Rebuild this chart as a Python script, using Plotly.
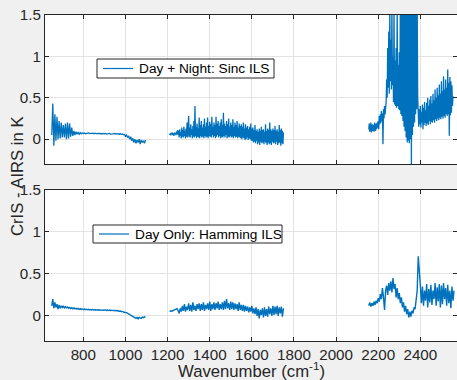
import plotly.graph_objects as go

# ---------------- data ----------------
# wavenumber sampling of each band: start and step (cm^-1)
lw_start, mw_start, sw_start = 650, 1210, 2155
coarse_step, fine_step = 5, 2.5

# Day + Night: Sinc ILS  (CrIS - AIRS, K)
top_lw = [0.05, 0.43, -0.08, 0.30, -0.02, 0.27, 0.00, 0.22, 0.01, 0.20,
          0.02, 0.17, 0.02, 0.19, 0.00, 0.20, 0.01, 0.19, 0.03, 0.14,
          0.04, 0.10, 0.05, 0.09, 0.06, 0.08, 0.06, 0.08, 0.065, 0.075,
          0.068, 0.074, 0.066, 0.072, 0.069, 0.075, 0.067, 0.071, 0.066, 0.073,
          0.065, 0.072, 0.067, 0.070, 0.064, 0.071, 0.066, 0.070, 0.063, 0.069,
          0.064, 0.070, 0.062, 0.068, 0.065, 0.070, 0.061, 0.067, 0.063, 0.069,
          0.062, 0.068, 0.061, 0.066, 0.060, 0.065, 0.058, 0.063, 0.055, 0.058,
          0.035, 0.050, 0.020, 0.040, 0.000, 0.030, -0.020, 0.010, -0.040, 0.000,
          -0.050, -0.010, -0.040, 0.000, -0.060, -0.010, -0.040, -0.020, -0.050, -0.010]
top_mw = [0.05, 0.07, 0.045, 0.075, 0.06, 0.08, 0.05, 0.07, 0.04, 0.08, 0.06, 0.075, 0.05, 0.09, 0.06, 0.11, 0.05,
          0.10, 0.02, 0.12, 0.04, 0.09, 0.01, 0.14, 0.03, 0.11, 0.02, 0.15, 0.04, 0.10, 0.01, 0.13, 0.03, 0.20, 0.02, 0.12, 0.28,
          0.03, 0.14, 0.02, 0.18, 0.05, 0.12, 0.01, 0.16, 0.03, 0.22, 0.02, 0.40, 0.04, 0.15, 0.01, 0.19, 0.03, 0.13, 0.02, 0.26,
          0.01, 0.17, 0.04, 0.22, 0.02, 0.14, 0.03, 0.18, 0.01, 0.25, 0.04, 0.15, 0.02, 0.20, 0.03, 0.26, 0.01, 0.16, 0.04, 0.21,
          0.03, 0.18, 0.02, 0.27, 0.05, 0.15, 0.02, 0.20, 0.04, 0.17, 0.01, 0.27, 0.03, 0.19, 0.05, 0.22, 0.02, 0.16, 0.04, 0.20,
          0.01, 0.24, 0.03, 0.17, 0.02, 0.32, 0.04, 0.19, 0.02, 0.16, 0.05, 0.22, 0.01, 0.18, 0.03, 0.25, 0.02, 0.15, 0.04, 0.20,
          0.02, 0.17, 0.03, 0.24, 0.01, 0.15, 0.04, 0.20, 0.02, 0.17, 0.03, 0.22, 0.01, 0.14, 0.03, 0.19, 0.02, 0.16, 0.01, 0.18,
          0.00, 0.15, 0.02, 0.20, 0.01, 0.13, -0.01, 0.18, 0.00, 0.14, 0.02, 0.16, -0.01, 0.12, 0.01, 0.15, 0.00, 0.19, -0.02, 0.13,
          -0.02, 0.14, -0.04, 0.11, -0.03, 0.17, -0.05, 0.10, -0.02, 0.12, -0.06, 0.09, -0.04, 0.13, -0.07, 0.10, -0.03, 0.15, -0.05, 0.11,
          -0.04, 0.12, -0.06, 0.09, -0.03, 0.18, -0.05, 0.10, -0.07, 0.13, -0.04, 0.11, -0.06, 0.20, -0.05, 0.12, -0.07, 0.10, -0.03, 0.13,
          -0.05, 0.11, -0.04, 0.16, -0.06, 0.10, -0.03, 0.12, -0.07, 0.09, -0.05, 0.17, -0.04, 0.11, -0.08, 0.13, -0.05, 0.10, -0.06, 0.08]
top_sw = [0.12, 0.19, 0.09, 0.16, 0.20, 0.08, 0.15, 0.18, 0.10, 0.17, 0.09, 0.20, 0.13, 0.10, 0.19, 0.12, 0.20, 0.14,
          0.22, 0.12, 0.28, 0.18, 0.30, 0.20, 0.34, 0.22, 0.31, -0.06, 0.36, 0.25, 0.40, 0.30, 0.38, 0.44,
          0.72, 0.50, 1.10, 0.62, 1.30, 0.55, 1.60, 0.70, 1.20, 0.60, 1.60, 0.65,
          1.00, 0.45, 1.60, 0.42, 0.95, 0.40, 1.10, 0.38, 1.60, 0.40, 0.90, 0.36, 1.05, 0.35, 1.60, 0.30,
          1.70, 0.28, 1.60, 0.22, 1.70, 0.15, 1.60, 0.10, 1.70, 0.02, 1.60, -0.04, 1.70, -0.02, 1.60, -0.05,
          1.70, 0.00, 1.60, -0.35, 1.70, 0.05, 1.60, 0.15, 1.70, 0.20, 1.60, 0.30, 1.70, 0.36, 1.60, 0.50,
          0.38, 0.15, 0.36, 0.18, 0.40, 0.14, 0.33, 0.20, 0.42, 0.12,
          0.38, 0.17, 0.45, 0.20, 0.35, 0.16, 0.44, 0.19, 0.50, 0.17,
          0.40, 0.22, 0.48, 0.18, 0.52, 0.21, 0.43, 0.20, 0.55, 0.23,
          0.47, 0.20, 0.60, 0.24, 0.50, 0.22, 0.62, 0.25, 0.53, 0.23,
          0.66, 0.26, 0.55, 0.24, 0.70, 0.27, 0.58, 0.25, 0.76, 0.28,
          0.60, 0.26, 0.72, 0.30, 0.62, 0.28, 0.84, 0.30, 0.68, 0.04,
          0.75, 0.29, 0.70, 0.32, 0.65, 0.40, 0.52]

# Day Only: Hamming ILS  (CrIS - AIRS, K)
bot_lw = [0.12, 0.20, 0.09, 0.16, 0.10, 0.14, 0.08, 0.13, 0.09, 0.12,
          0.10, 0.12, 0.09, 0.11, 0.095, 0.105, 0.09, 0.10, 0.088, 0.098,
          0.085, 0.095, 0.083, 0.090, 0.080, 0.088, 0.078, 0.086, 0.077, 0.082,
          0.075, 0.080, 0.073, 0.079, 0.072, 0.077, 0.071, 0.076, 0.070, 0.075,
          0.069, 0.074, 0.068, 0.073, 0.067, 0.072, 0.066, 0.071, 0.066, 0.070,
          0.065, 0.070, 0.064, 0.069, 0.063, 0.068, 0.062, 0.067, 0.062, 0.066,
          0.060, 0.065, 0.058, 0.063, 0.055, 0.058, 0.050, 0.052, 0.045, 0.046,
          0.040, 0.038, 0.030, 0.028, 0.020, 0.012, 0.005, 0.000, -0.010, -0.020,
          -0.030, -0.020, -0.035, -0.018, -0.025, -0.030, -0.015, -0.022, -0.012, -0.018]
bot_mw = [0.05, 0.06, 0.055, 0.065, 0.07, 0.075, 0.08, 0.085, 0.06, 0.03,
          0.09, 0.05, 0.12, 0.06, 0.14, 0.05, 0.11, 0.07, 0.15, 0.06,
          0.13, 0.05, 0.16, 0.07, 0.12, 0.06, 0.14, 0.08, 0.15, 0.06,
          0.14, 0.07, 0.16, 0.06, 0.13, 0.08, 0.15, 0.07, 0.17, 0.06,
          0.14, 0.08, 0.16, 0.07, 0.15, 0.09, 0.17, 0.07, 0.14, 0.08,
          0.16, 0.07, 0.18, 0.08, 0.20, 0.09, 0.15, 0.07, 0.17, 0.08,
          0.16, 0.07, 0.15, 0.08, 0.14, 0.06, 0.16, 0.07, 0.13, 0.06,
          0.13, 0.05, 0.12, 0.06, 0.11, 0.04, 0.10, 0.05, 0.12, 0.03,
          0.09, 0.02, 0.10, 0.00, 0.08, -0.03, 0.07, 0.01, 0.09, -0.02,
          0.10, 0.00, 0.08, -0.01, 0.11, 0.02, 0.09, 0.00, 0.12, 0.01,
          0.11, 0.02, 0.12, 0.00, 0.10, 0.03, 0.11, -0.01, 0.09]
bot_sw = [0.12, 0.16, 0.11, 0.15, 0.12, 0.17, 0.13, 0.18, 0.15, 0.21,
          0.17, 0.26, 0.20, 0.33, 0.22, 0.07, 0.30, 0.36, 0.25, 0.39,
          0.30, 0.41, 0.28, 0.45, 0.32, 0.38, 0.22, 0.33, 0.20, 0.27,
          0.15, 0.22, 0.10, 0.16, 0.05, 0.12, 0.02, 0.08, -0.02, 0.05,
          -0.01, 0.06, 0.03, 0.10, 0.08, 0.20, 0.30, 0.71, 0.45, 0.36,
          0.15, 0.35, 0.12, 0.30, 0.18, 0.38, 0.10, 0.32, 0.16, 0.37,
          0.13, 0.30, 0.20, 0.39, 0.12, 0.34, 0.17, 0.38, 0.10, 0.36,
          0.14, 0.39, 0.20, 0.33, 0.12, 0.37, 0.15, 0.30, 0.09, 0.35,
          0.18, 0.30]

series_names = ["Day + Night: Sinc ILS", "Day Only: Hamming ILS"]
x_ticks = [800, 1000, 1200, 1400, 1600, 1800, 2000, 2200, 2400]
y_ticks = [0, 0.5, 1, 1.5]


def join_bands(bands):
    xs, ys = [], []
    for start, stp, vals in bands:
        xs += [start + stp * i for i in range(len(vals))] + [None]
        ys += list(vals) + [None]
    return xs, ys


# ---------------- figure ----------------
FONT = "Liberation Sans, Arial, Helvetica, sans-serif"
AX = "#262626"
BLUE = "#0072BD"
W, H = 457, 380
ML, MR, MT, MB = 45, 0, 15, 39
PW, PH = W - ML - MR, H - MT - MB


def px(xp):   # paper x from pixel
    return (xp - ML) / PW


def py(yp):   # paper y from pixel
    return (H - MB - yp) / PH


fig = go.Figure()
x1, y1 = join_bands([(lw_start, coarse_step, top_lw), (mw_start, fine_step, top_mw),
                     (sw_start, fine_step, top_sw)])
x2, y2 = join_bands([(lw_start, coarse_step, bot_lw), (mw_start, coarse_step, bot_mw),
                     (sw_start, coarse_step, bot_sw)])
fig.add_trace(go.Scatter(x=x1, y=y1, mode="lines", name=series_names[0],
                         line=dict(color=BLUE, width=1.3), xaxis="x", yaxis="y",
                         connectgaps=False, showlegend=False))
fig.add_trace(go.Scatter(x=x2, y=y2, mode="lines", name=series_names[1],
                         line=dict(color=BLUE, width=1.4), xaxis="x2", yaxis="y2",
                         connectgaps=False, showlegend=False))

xcommon = dict(range=[618, 2574], tickvals=x_ticks, showgrid=True, gridcolor="#e3e3e3",
               gridwidth=1, zeroline=False, showline=True, linecolor=AX, linewidth=1,
               mirror="ticks", ticks="inside", ticklen=4, tickcolor=AX, automargin=False,
               tickfont=dict(family=FONT, size=15.2, color=AX))
ycommon = dict(range=[-0.3, 1.5], tickvals=y_ticks, ticktext=["0", "0.5", "1", "1.5"],
               showgrid=True, gridcolor="#e3e3e3", gridwidth=1, zeroline=False,
               showline=True, linecolor=AX, linewidth=1, mirror="ticks",
               ticks="inside", ticklen=4, tickcolor=AX, automargin=False,
               tickfont=dict(family=FONT, size=15.2, color=AX))

# legend boxes (MATLAB-style, one per axes): box, line sample, label
legend_boxes = [
    dict(box=(97, 59, 274, 78), sample=(103, 133), text_x=137, name=series_names[0]),
    dict(box=(93, 225, 282, 243), sample=(99, 129), text_x=133, name=series_names[1]),
]
shapes, annotations = [], []
for lb in legend_boxes:
    x0, y0, x1b, y1b = lb["box"]
    shapes.append(dict(type="rect", xref="paper", yref="paper", layer="above",
                       x0=px(x0), x1=px(x1b), y0=py(y1b), y1=py(y0),
                       fillcolor="white", line=dict(color=AX, width=1)))
    ym = (y0 + y1b) / 2
    shapes.append(dict(type="line", xref="paper", yref="paper", layer="above",
                       x0=px(lb["sample"][0]), x1=px(lb["sample"][1]),
                       y0=py(ym), y1=py(ym), line=dict(color=BLUE, width=1.2)))
    annotations.append(dict(text=lb["name"], xref="paper", yref="paper",
                            x=px(lb["text_x"]), y=py(ym), xanchor="left",
                            yanchor="middle", showarrow=False,
                            font=dict(family=FONT, size=13.7, color="#000000")))

annotations.append(dict(text="CrIS - AIRS in K", xref="paper", yref="paper",
                        x=px(17), y=py(176), textangle=-90, showarrow=False,
                        xanchor="center", yanchor="middle",
                        font=dict(family=FONT, size=16.7, color=AX)))
annotations.append(dict(text="Wavenumber (cm<sup>-1</sup>)", xref="paper", yref="paper",
                        x=px(251), y=py(369.5), showarrow=False,
                        xanchor="center", yanchor="middle",
                        font=dict(family=FONT, size=16.7, color=AX)))

fig.update_layout(
    width=W, height=H,
    margin=dict(l=ML, r=MR, t=MT, b=MB),
    paper_bgcolor="#f0f0f0", plot_bgcolor="white",
    showlegend=False,
    xaxis=dict(xcommon, anchor="y", showticklabels=False),
    yaxis=dict(ycommon, domain=[py(164), 1.0], anchor="x"),
    xaxis2=dict(xcommon, anchor="y2", matches="x"),
    yaxis2=dict(ycommon, domain=[0.0, py(190)], anchor="x2"),
    shapes=shapes,
    annotations=annotations,
)

fig.write_html("out.html",
               config={"displayModeBar": False},
               post_script="document.body.style.margin='0px';"
                           "document.body.style.overflow='hidden';"
                           "document.body.style.background='#f0f0f0';")
